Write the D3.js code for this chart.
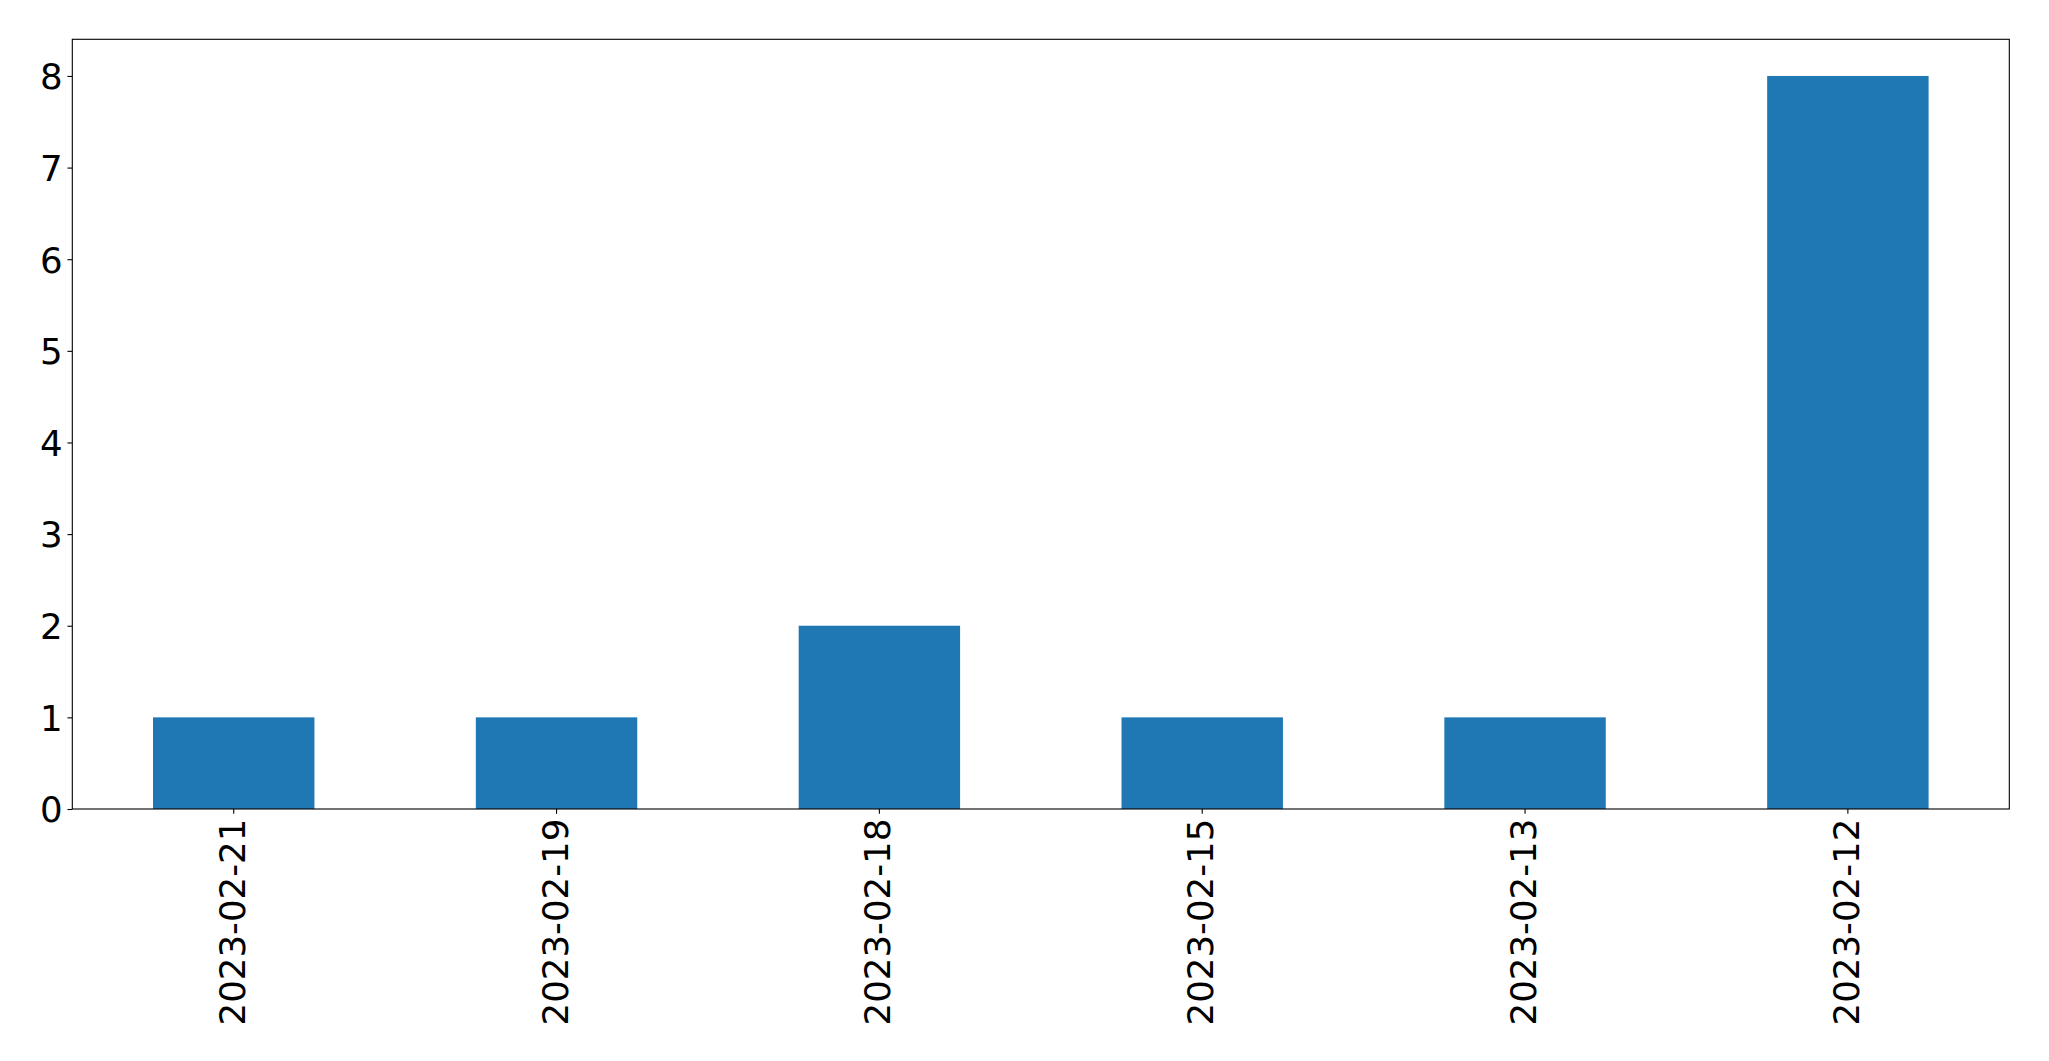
<!DOCTYPE html>
<html>
<head>
<meta charset="utf-8">
<script src="https://cdn.jsdelivr.net/npm/d3@7"></script>
<style>
  html, body { margin: 0; padding: 0; background: #fff; }
  svg { display: block; }
  text { font-family: "DejaVu Sans", sans-serif; fill: #000; }
</style>
</head>
<body>
<script>
const categories = ["2023-02-21", "2023-02-19", "2023-02-18", "2023-02-15", "2023-02-13", "2023-02-12"];
const values = [1, 1, 2, 1, 1, 8];
const yTicks = [0, 1, 2, 3, 4, 5, 6, 7, 8];

const W = 2049, H = 1061;
const margin = { left: 72.3, right: 2049 - 2009.3, top: 39.3, bottom: 1061 - 809 };
const fontSize = 35.6;
const tickLen = 4.86, pad = 4.86;

const svg = d3.select("body").append("svg").attr("width", W).attr("height", H);

const x = d3.scaleBand().domain(categories)
  .range([margin.left, W - margin.right]).paddingInner(0.5).paddingOuter(0.25);
const y = d3.scaleLinear().domain([0, 8.4]).range([H - margin.bottom, margin.top]);

// bars
svg.append("g").selectAll("rect").data(values).join("rect")
  .attr("x", (d, i) => x(categories[i]))
  .attr("y", d => y(d))
  .attr("width", x.bandwidth())
  .attr("height", d => y(0) - y(d))
  .attr("fill", "#1f77b4");

// frame
svg.append("rect")
  .attr("x", margin.left).attr("y", margin.top)
  .attr("width", W - margin.right - margin.left)
  .attr("height", H - margin.bottom - margin.top)
  .attr("fill", "none").attr("stroke", "#000").attr("stroke-width", 1.1);

// y axis
const yAxis = d3.axisLeft(y).tickValues(yTicks).tickFormat(d3.format("d"))
  .tickSize(tickLen).tickPadding(pad);
const gy = svg.append("g").attr("transform", `translate(${margin.left},0)`).call(yAxis);
gy.select(".domain").remove();
gy.selectAll(".tick line").attr("stroke", "#000").attr("stroke-width", 1.1);
gy.selectAll(".tick text").attr("font-size", fontSize).attr("font-family", "DejaVu Sans").attr("dy", "0.36em");

// x axis
const xAxis = d3.axisBottom(x).tickSize(tickLen).tickPadding(pad);
const gx = svg.append("g").attr("transform", `translate(0,${H - margin.bottom})`).call(xAxis);
gx.select(".domain").remove();
gx.selectAll(".tick line").attr("stroke", "#000").attr("stroke-width", 1.1);
gx.selectAll(".tick text")
  .attr("font-size", fontSize).attr("font-family", "DejaVu Sans")
  .attr("text-anchor", "end")
  .attr("transform", "rotate(-90)")
  .attr("x", -(tickLen + pad))
  .attr("y", 0)
  .attr("dy", "0.31em");
</script>
</body>
</html>
